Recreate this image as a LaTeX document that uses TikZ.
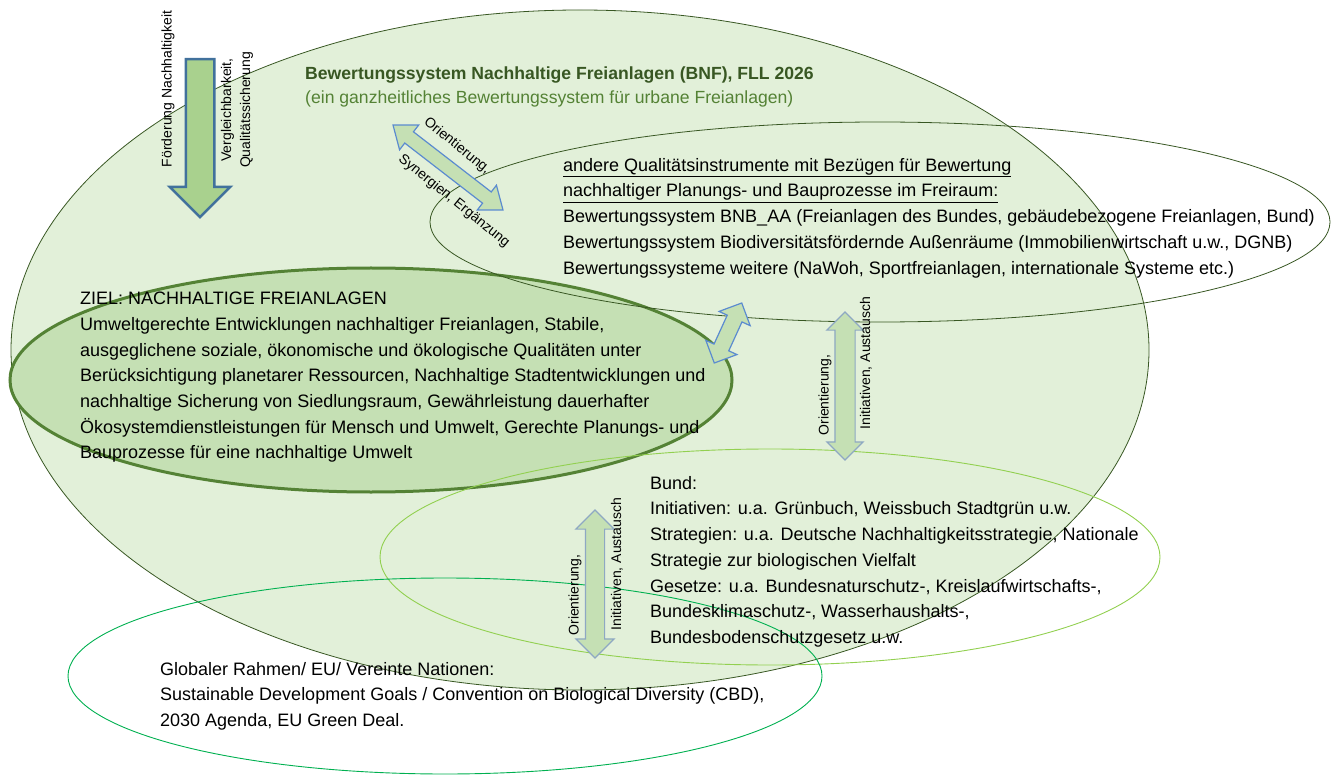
\documentclass[tikz,border=0pt]{standalone}
\usepackage{fontspec}
\setmainfont{Liberation Sans}
\usetikzlibrary{shapes.arrows}
\definecolor{bnffill}{HTML}{E2F0D9}
\definecolor{zielfill}{HTML}{C5E0B4}
\definecolor{darkgreen}{HTML}{385723}
\definecolor{midgreen}{HTML}{548235}
\definecolor{bundgreen}{HTML}{92D050}
\definecolor{globgreen}{HTML}{00B050}
\definecolor{arrowfill}{HTML}{A9D18E}
\definecolor{arrowblue}{HTML}{41719C}
\definecolor{diagblue}{HTML}{5B8BD0}
\definecolor{vertblue}{HTML}{8EA8C3}

\begin{document}
\begin{tikzpicture}[x=1pt, y=-1pt,
    txt/.style={align=left, inner sep=0pt, anchor=north west, font=\fontsize{18}{25.7}\selectfont},
    lbl/.style={inner sep=0pt, font=\fontsize{14}{19}\selectfont},
    dblarrow/.style={double arrow, fill=zielfill, inner xsep=0pt, line width=1.2pt},
  ]
  \useasboundingbox (0,0) rectangle (1335,775);

  \draw[fill=bnffill, draw=darkgreen, line width=0.8pt] (580,350) ellipse [x radius=569, y radius=340];
  \draw[fill=zielfill, draw=midgreen, line width=3pt] (371,380) ellipse [x radius=361, y radius=112];
  \draw[darkgreen, line width=0.8pt] (880,222) ellipse [x radius=450, y radius=100];
  \draw[bundgreen, line width=0.9pt] (770,557) ellipse [x radius=390, y radius=108];
  \draw[globgreen, line width=0.9pt] (445,676) ellipse [x radius=377, y radius=98];

  \node[single arrow, draw=arrowblue, fill=arrowfill, line width=2.5pt, inner xsep=0pt, inner ysep=13pt,
        minimum height=158, single arrow head extend=16pt, rotate=-90] (foerderpfeil) at (200,131) {};
  \node[lbl, rotate=90] (foerderlbl) at (168,89) {Förderung Nachhaltigkeit};
  \node[lbl, rotate=90, align=center] (vergllbl) at (237,110) {Vergleichbarkeit,\\Qualitätssicherung};

  \node[txt, font=\fontsize{17.6}{24}\selectfont\bfseries, text=darkgreen] (bnftitle) at (305,67)
    {Bewertungssystem Nachhaltige Freianlagen (BNF), FLL 2026};
  \node[txt, font=\fontsize{17.6}{24}\selectfont, text=midgreen] (bnfsub) at (305,91)
    {(ein ganzheitliches Bewertungssystem für urbane Freianlagen)};

  \node[dblarrow, draw=diagblue, inner ysep=6.5pt, minimum height=139, double arrow head extend=8.5pt,
        double arrow tip angle=75, rotate=-37.7] (synpfeil) at (448,167.5) {};
  \node[lbl, rotate=-39] (synlbla) at (457,146) {Orientierung,};
  \node[lbl, rotate=-39] (synlblb) at (454,201) {Synergien, Ergänzung};

  \node[txt] (qualtext) at (563,158)
    {\underline{andere Qualitätsinstrumente mit Bezügen für Bewertung}\\
     \underline{nachhaltiger Planungs- und Bauprozesse im Freiraum:}\\
     Bewertungssystem BNB\_AA (Freianlagen des Bundes, gebäudebezogene Freianlagen, Bund)\\
     Bewertungssystem Biodiversitätsfördernde Außenräume (Immobilienwirtschaft u.w., DGNB)\\
     Bewertungssysteme weitere (NaWoh, Sportfreianlagen, internationale Systeme etc.)};

  \node[txt] (zieltext) at (80,292)
    {ZIEL: NACHHALTIGE FREIANLAGEN\\
     Umweltgerechte Entwicklungen nachhaltiger Freianlagen, Stabile,\\
     ausgeglichene soziale, ökonomische und ökologische Qualitäten unter\\
     Berücksichtigung planetarer Ressourcen, Nachhaltige Stadtentwicklungen und\\
     nachhaltige Sicherung von Siedlungsraum, Gewährleistung dauerhafter\\
     Ökosystemdienstleistungen für Mensch und Umwelt, Gerechte Planungs- und\\
     Bauprozesse für eine nachhaltige Umwelt};

  \node[dblarrow, draw=diagblue, inner ysep=7.5pt, minimum height=66, double arrow head extend=9pt,
        rotate=65.4] (zielpfeil) at (728,333) {};

  \node[dblarrow, draw=vertblue, inner ysep=9.5pt, minimum height=148, double arrow head extend=8pt,
        rotate=90] (bundpfeil) at (845,386) {};
  \node[lbl, rotate=90] (bundlbla) at (825,395) {Orientierung,};
  \node[lbl, rotate=90] (bundlblb) at (866,363) {Initiativen, Austausch};

  \node[txt] (bundtext) at (650,476)
    {Bund:\\
     Initiativen: u.a. Grünbuch, Weissbuch Stadtgrün u.w.\\
     Strategien: u.a. Deutsche Nachhaltigkeitsstrategie, Nationale\\
     Strategie zur biologischen Vielfalt\\
     Gesetze: u.a. Bundesnaturschutz-, Kreislaufwirtschafts-,\\
     Bundesklimaschutz-, Wasserhaushalts-,\\
     Bundesbodenschutzgesetz u.w.};

  \node[dblarrow, draw=vertblue, inner ysep=9pt, minimum height=148, double arrow head extend=9.5pt,
        rotate=90] (globpfeil) at (595,584) {};
  \node[lbl, rotate=90] (globlbla) at (575,595) {Orientierung,};
  \node[lbl, rotate=90] (globlblb) at (617,564) {Initiativen, Austausch};

  \node[txt] (globtext) at (160,662)
    {Globaler Rahmen/ EU/ Vereinte Nationen:\\
     Sustainable Development Goals / Convention on Biological Diversity (CBD),\\
     2030 Agenda, EU Green Deal.};
\end{tikzpicture}
\end{document}
